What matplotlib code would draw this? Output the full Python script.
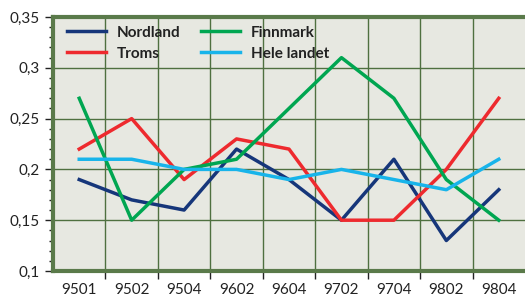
import numpy as np
import matplotlib.pyplot as plt
from matplotlib.ticker import MultipleLocator, FixedLocator

plt.rcParams['font.family'] = ['Lato', 'DejaVu Sans']

periods = ["9501", "9502", "9504", "9602", "9604", "9702", "9704", "9802", "9804"]
nordland = [0.19, 0.17, 0.16, 0.22, 0.19, 0.15, 0.21, 0.13, 0.18]
troms = [0.22, 0.25, 0.19, 0.23, 0.22, 0.15, 0.15, 0.20, 0.27]
finnmark = [0.27, 0.15, 0.20, 0.21, 0.26, 0.31, 0.27, 0.19, 0.15]
hele_landet = [0.21, 0.21, 0.20, 0.20, 0.19, 0.20, 0.19, 0.18, 0.21]

fig = plt.figure(figsize=(5.25, 2.99), dpi=100)
ax = fig.add_axes([53/525, 28/299, 472/525, 254/299])
ax.set_facecolor("#e7e8e1")

x = np.arange(len(periods))
ax.plot(x, nordland, color="#16367a", lw=2.5, label="Nordland")
ax.plot(x, troms, color="#ee2a2e", lw=2.5, label="Troms")
ax.plot(x, finnmark, color="#00a651", lw=2.5, label="Finnmark")
ax.plot(x, hele_landet, color="#18b4ea", lw=2.5, label="Hele landet")

ax.set_xlim(-0.5, len(periods) - 0.5)
ax.set_ylim(0.1, 0.35)

ax.set_xticks(x)
ax.set_xticklabels(periods)
ax.xaxis.set_minor_locator(FixedLocator(np.arange(0.5, len(periods) - 0.5, 1)))
ax.tick_params(axis="x", which="major", length=0, pad=9, labelsize=11, colors="#222222")
ax.tick_params(axis="x", which="minor", length=6, width=1, color="#222222")

ax.yaxis.set_minor_locator(MultipleLocator(0.01))
ax.set_yticks([0.1, 0.15, 0.2, 0.25, 0.3, 0.35])
ax.set_yticklabels(["0,1", "0,15", "0,2", "0,25", "0,3", "0,35"])
ax.tick_params(axis="y", which="major", length=6, width=1, labelsize=11, colors="#222222")
ax.tick_params(axis="y", which="minor", length=3, width=1, color="#222222")

ax.grid(True, which="minor", axis="x", color="#4f7040", lw=1)
ax.grid(True, which="major", axis="y", color="#4f7040", lw=1)

for side in ["left", "top", "bottom"]:
    ax.spines[side].set_color("#5a7a4a")
    ax.spines[side].set_linewidth(3)
ax.spines["right"].set_visible(False)

leg = ax.legend(loc="upper left", ncol=2, frameon=False, bbox_to_anchor=(0.0, 1.02),
                prop={"weight": "bold", "size": 11}, handlelength=2.6, handletextpad=0.7,
                columnspacing=1.3, labelspacing=0.45)
for t in leg.get_texts():
    t.set_color("#222222")

fig.savefig("out.png", dpi=100)
